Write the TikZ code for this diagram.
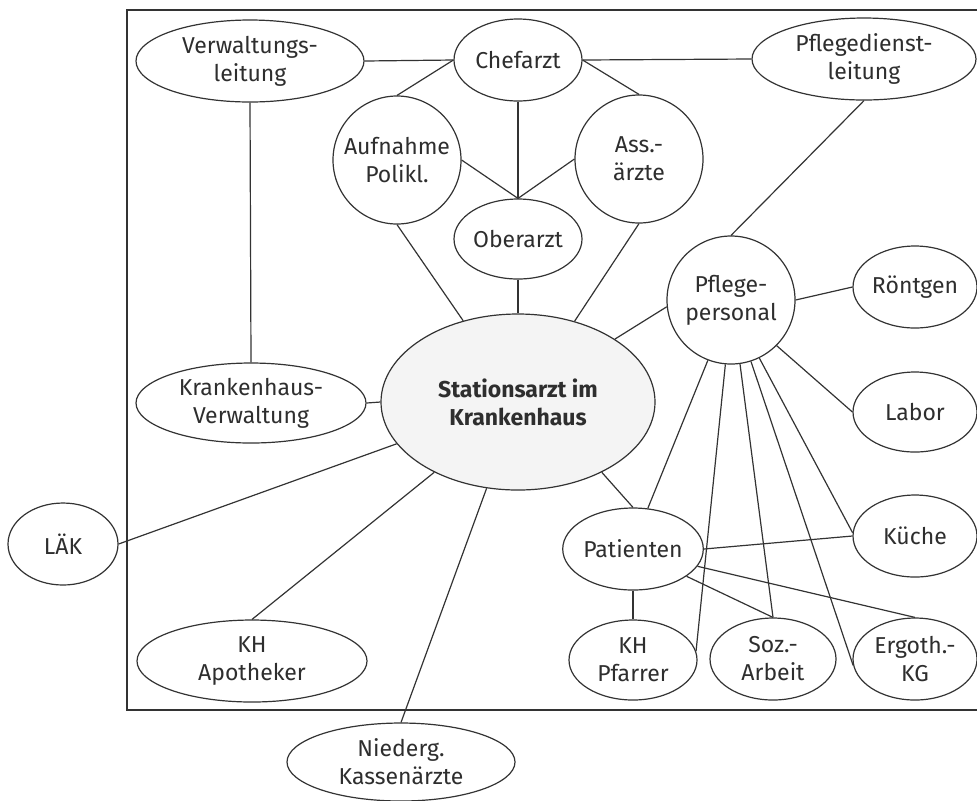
\documentclass[tikz,border=0pt]{standalone}
\usepackage{fontspec}
\setmainfont{Fira Sans}
\usetikzlibrary{shapes.geometric}
\begin{document}
\begin{tikzpicture}[x=0.5pt,y=-0.5pt,
  txt/.style={text=black!82, font=\fontsize{11.5}{14}\selectfont, align=center},
  oval/.style 2 args={ellipse, draw=black!80, line width=0.6pt, inner sep=0pt,
    fill=white, txt, minimum width=#1 pt, minimum height=#2 pt},
  rnd/.style={circle, draw=black!80, line width=0.6pt, inner sep=0pt,
    fill=white, txt, minimum size=64pt},
  link/.style={draw=black!80, line width=0.6pt}]
\useasboundingbox (0,0) rectangle (977,800);

% open frame around the hospital
\draw[link] (977,10) -- (127,10) -- (127,710) -- (977,710);

% nodes
\node[oval={114}{41}] (vl)  at (250,61)  {Verwaltungs-\\leitung};
\node[oval={64}{41}]  (cf)  at (518,60)  {Chefarzt};
\node[oval={112}{41}] (pdl) at (864,59)  {Pflegedienst-\\leitung};
\node[rnd]            (auf) at (397,160) {Aufnahme\\Polikl.};
\node[rnd]            (ass) at (639,159) {Ass.-\\ärzte};
\node[oval={64}{40}]  (ob)  at (518,239) {Oberarzt};
\node[rnd]            (pp)  at (731,300) {Pflege-\\personal};
\node[oval={62}{41}]  (rg)  at (915,287) {Röntgen};
\node[oval={62}{40}]  (lb)  at (915,412) {Labor};
\node[oval={137}{88}, fill=gray!9, font=\fontsize{11.5}{14}\selectfont\bfseries]
                      (st)  at (518,402) {Stationsarzt im\\Krankenhaus};
\node[oval={115}{40}] (kv)  at (251,403) {Krankenhaus-\\Verwaltung};
\node[oval={55}{41}]  (lak) at (63,544)  {LÄK};
\node[oval={115}{41}] (apo) at (252,661) {KH\\Apotheker};
\node[oval={114}{39}] (nk)  at (401,762) {Niederg.\\Kassenärzte};
\node[oval={64}{41}]  (pat) at (633,549) {Patienten};
\node[oval={62}{41}]  (kue) at (915,536) {Küche};
\node[oval={64}{40}]  (pfr) at (633,660) {KH\\Pfarrer};
\node[oval={63}{41}]  (soz) at (773,659) {Soz.-\\Arbeit};
\node[oval={62}{41}]  (erg) at (915,659) {Ergoth.-\\KG};

% connectors
\draw[link] (vl.east) -- (cf.west);
\draw[link] (cf.east) -- (pdl.west);
\draw[link] (cf.west) -- (auf.north);
\draw[link] (cf.east) -- (ass.north);
\draw[link] (cf.south) -- (ob.north);
\draw[link] (auf.east) -- (ob.north);
\draw[link] (ass.west) -- (ob.north);
\draw[link] (auf.south) -- (st.124);
\draw[link] (ass.south) -- (st.55);
\draw[link] (ob.south) -- (st.north);
\draw[link] (pdl.south) -- (pp.north);
\draw[link] (pp.east) -- (rg.west);
\draw[link] (pp.-45) -- (lb.west);
\draw[link] (st.33) -- (pp.186);
\draw[link] (vl.south) -- (kv.north);
\draw[link] (kv.east) -- (st.west);
\draw[link] (lak.east) -- (st.199);
\draw[link] (apo.north) -- (st.220);
\draw[link] (nk.north) -- (st.250);
\draw[link] (st.-40) -- (pat.north);
\draw[link] (pp.249) -- (pat.70);
\draw[link] (pp.265) -- (pfr.8);
\draw[link] (pp.-82) -- (soz.north);
\draw[link] (pp.-72) -- (erg.186);
\draw[link] (pp.-64) -- (kue.177);
\draw[link] (pat.east) -- (kue.west);
\draw[link] (pat.-27) -- (soz.north);
\draw[link] (pat.-15) -- (erg.north);
\draw[link] (pat.south) -- (pfr.north);
\end{tikzpicture}
\end{document}
